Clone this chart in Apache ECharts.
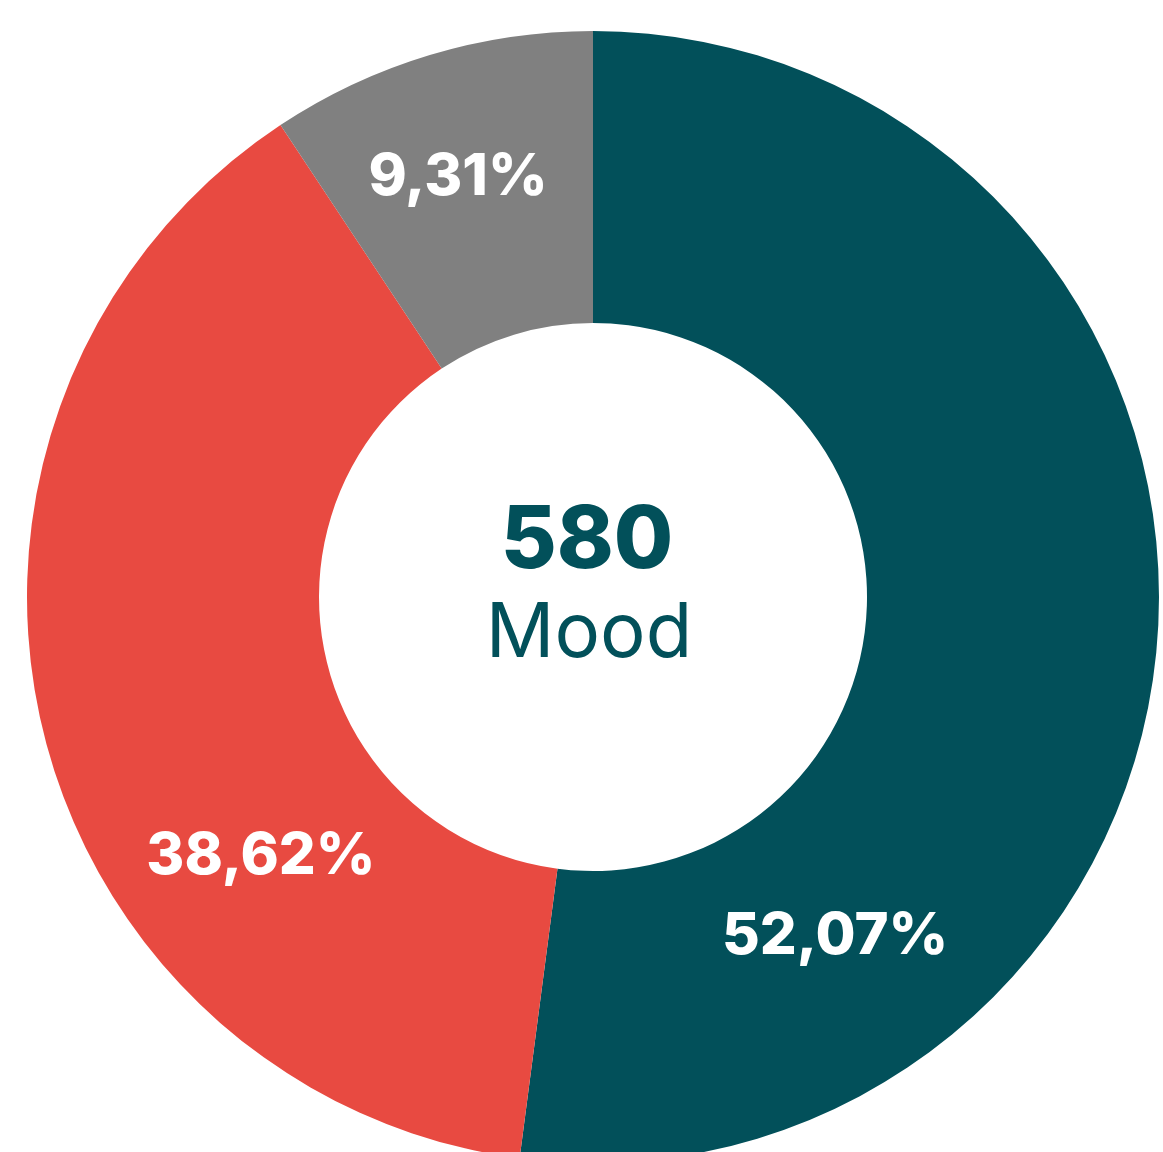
<!DOCTYPE html>
<html>
<head>
<meta charset="utf-8">
<script src="https://cdn.jsdelivr.net/npm/echarts@6/dist/echarts.min.js"></script>
<style>
  html, body { margin: 0; padding: 0; background: #ffffff; }
  #chart { width: 1163px; height: 1152px; }
</style>
</head>
<body>
<div id="chart"></div>
<script>
const categories = ['Positief', 'Negatief', 'Neutraal'];
const values = [302, 224, 54];
const colors = ['#02505A', '#E84A41', '#808080'];
const totalLabel = 'Mood';
const labelShift = [[-180, 312], [80, 164], [-13, -14]];

const total = values.reduce((a, b) => a + b, 0);
const chart = echarts.init(document.getElementById('chart'));
chart.setOption({
  animation: false,
  backgroundColor: '#ffffff',
  title: [
    { text: String(total), left: 582, top: 494, textAlign: 'center',
      textStyle: { fontFamily: 'Inter', fontWeight: 800, fontSize: 86, color: '#02505A' } },
    { text: totalLabel, left: 584, top: 591, textAlign: 'center',
      textStyle: { fontFamily: 'Inter', fontWeight: 'normal', fontSize: 76, color: '#02505A' } }
  ],
  series: [{
    type: 'pie',
    center: [593, 597],
    radius: [274, 566],
    startAngle: 90,
    clockwise: true,
    avoidLabelOverlap: false,
    itemStyle: { borderWidth: 0 },
    label: {
      show: true,
      position: 'inside',
      color: '#ffffff',
      fontFamily: 'Inter',
      fontWeight: 800,
      fontSize: 58,
      formatter: p => p.percent.toFixed(2).replace('.', ',') + '%'
    },
    labelLine: { show: false },
    labelLayout: p => ({ dx: labelShift[p.dataIndex][0], dy: labelShift[p.dataIndex][1] }),
    data: categories.map((c, i) => ({ name: c, value: values[i], itemStyle: { color: colors[i] } }))
  }]
});
</script>
</body>
</html>
